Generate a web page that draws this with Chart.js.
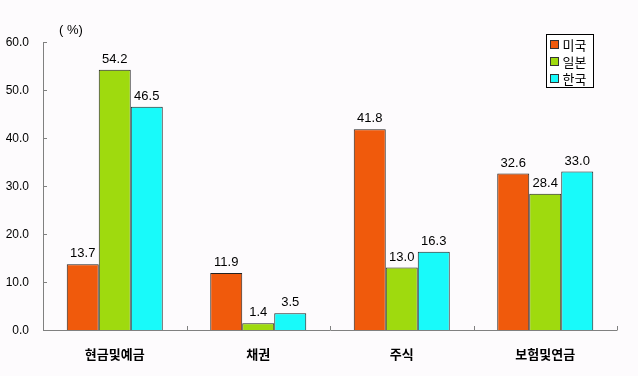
<!DOCTYPE html>
<html><head><meta charset="utf-8">
<script src="https://cdn.jsdelivr.net/npm/chart.js@4/dist/chart.umd.min.js"></script>
<style>html,body{margin:0;padding:0;background:#fdfbfd;}#wrap{width:638px;height:376px;}</style>
</head><body><div id="wrap"><canvas id="c" width="638" height="376"></canvas></div>
<script>
const categories = ['현금및예금', '채권', '주식', '보험및연금'];
const seriesNames = ['미국', '일본', '한국'];
const usValues = [13.7, 11.9, 41.8, 32.6];
const jpValues = [54.2, 1.4, 13.0, 28.4];
const krValues = [46.5, 3.5, 16.3, 33.0];
const yTicks = [0, 10, 20, 30, 40, 50, 60];
const unitLabel = '( %)';
const colors = ['#F05A0C', '#9FDA0E', '#18FAFA'];

const latin = '"Liberation Sans", Arial, sans-serif';
const kor = '"Noto Sans CJK KR", sans-serif';

const overlay = {
  id: 'overlay',
  afterDatasetsDraw(chart) {
    const ctx = chart.ctx;
    const ca = chart.chartArea;
    const ys = chart.scales.y;
    ctx.save();
    ctx.strokeStyle = '#808080';
    ctx.lineWidth = 1;
    ctx.beginPath();
    ctx.moveTo(Math.round(ca.left) + 0.5, ys.getPixelForValue(60));
    ctx.lineTo(Math.round(ca.left) + 0.5, Math.round(ca.bottom) + 0.5);
    ctx.lineTo(Math.round(ca.right) + 0.5, Math.round(ca.bottom) + 0.5);
    ctx.stroke();
    ctx.fillStyle = '#000';
    ctx.font = '12px ' + latin;
    ctx.textAlign = 'right';
    ctx.textBaseline = 'middle';
    yTicks.forEach(v => {
      const y = Math.round(ys.getPixelForValue(v)) + 0.5;
      ctx.beginPath(); ctx.moveTo(ca.left, y); ctx.lineTo(ca.left + 4, y); ctx.stroke();
      ctx.fillText(v.toFixed(1), ca.left - 14, y);
    });
    const n = categories.length;
    const w = (ca.right - ca.left) / n;
    for (let i = 1; i <= n; i++) {
      const x = Math.round(ca.left + w * i) + 0.5;
      ctx.beginPath(); ctx.moveTo(x, ca.bottom); ctx.lineTo(x, ca.bottom - 4); ctx.stroke();
    }
    ctx.font = '13px ' + latin;
    ctx.textAlign = 'center';
    ctx.textBaseline = 'bottom';
    chart.data.datasets.forEach((ds, di) => {
      const meta = chart.getDatasetMeta(di);
      meta.data.forEach((bar, i) => {
        ctx.fillText(ds.data[i].toFixed(1), bar.x, bar.y - 4);
      });
    });
    ctx.font = '13px ' + latin;
    ctx.textAlign = 'center';
    ctx.textBaseline = 'middle';
    ctx.fillText(unitLabel, 71, 30);
    const lx = 546.5, ly = 34.5, lw = 47, lh = 53;
    ctx.fillStyle = '#ffffff';
    ctx.fillRect(lx, ly, lw, lh);
    ctx.strokeStyle = '#000';
    ctx.strokeRect(lx, ly, lw, lh);
    ctx.font = '13px ' + kor;
    ctx.textAlign = 'left';
    chart.data.datasets.forEach((ds, di) => {
      const cy = ly + 10 + di * 17;
      ctx.fillStyle = ds.backgroundColor;
      ctx.fillRect(lx + 4, cy - 4, 8, 8);
      ctx.strokeStyle = '#333';
      ctx.strokeRect(lx + 4, cy - 4, 8, 8);
      ctx.fillStyle = '#000';
      ctx.fillText(ds.label, lx + 16, cy + 1);
    });
    ctx.restore();
  }
};

new Chart(document.getElementById('c'), {
  type: 'bar',
  data: {
    labels: categories,
    datasets: [
      { label: seriesNames[0], data: usValues, backgroundColor: colors[0] },
      { label: seriesNames[1], data: jpValues, backgroundColor: colors[1] },
      { label: seriesNames[2], data: krValues, backgroundColor: colors[2] }
    ].map(d => Object.assign(d, { borderColor: '#222', borderWidth: 1, categoryPercentage: 0.669, barPercentage: 1.0 }))
  },
  options: {
    responsive: false,
    animation: false,
    devicePixelRatio: 1,
    layout: { padding: { left: 0, right: 21, top: 42, bottom: 0 } },
    plugins: { legend: { display: false }, tooltip: { enabled: false } },
    scales: {
      x: {
        grid: { display: false },
        border: { display: false },
        ticks: { font: { family: kor, size: 13, weight: 'bold' }, color: '#000', padding: 8 },
        afterFit(s) { s.height = 46; }
      },
      y: {
        min: 0, max: 60,
        afterBuildTicks(s) { s.ticks = yTicks.map(v => ({ value: v })); },
        grid: { display: false },
        border: { display: false },
        ticks: { display: false },
        afterFit(s) { s.width = 43; }
      }
    }
  },
  plugins: [overlay]
});
</script></body></html>
